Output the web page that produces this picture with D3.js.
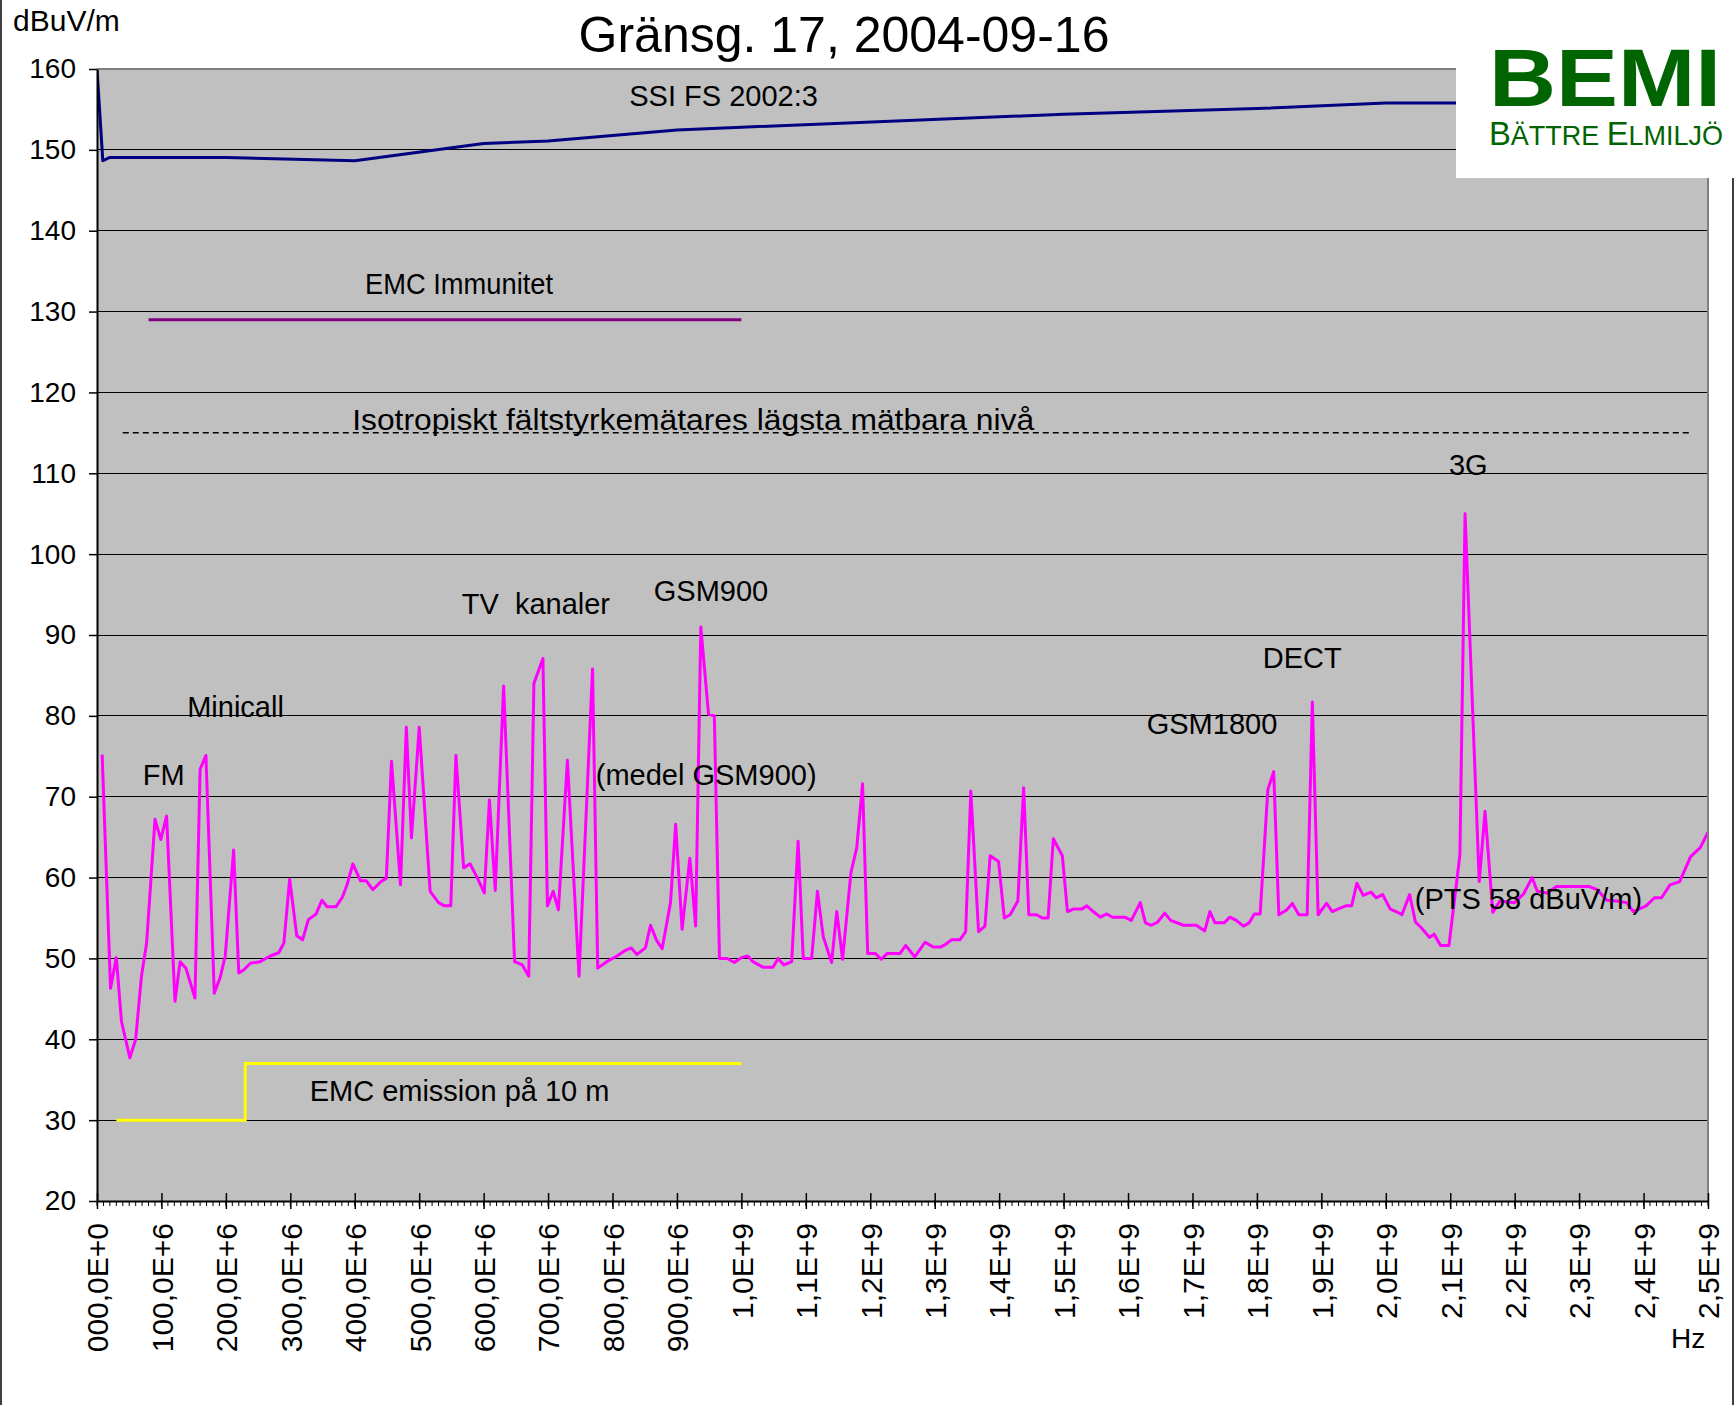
<!DOCTYPE html>
<html>
<head>
<meta charset="utf-8">
<script src="https://cdn.jsdelivr.net/npm/d3@7"></script>
<style>
  body { margin: 0; background: #fff; }
  svg { display: block; font-family: "Liberation Sans", Arial, sans-serif; }
</style>
</head>
<body>
<div id="chart"></div>
<script>
// measured field strength: [frequency MHz, level dBuV/m]
var measured = [
  [8,75.2],[21,46.3],[30,50.1],[38,42.2],[51,37.7],[60,40],[69,47.8],[77,51.9],[90,67.2],[99,64.7],
  [108,67.6],[121,44.7],[129,49.6],[138,48.8],[152,45.1],[160,73.4],[169,75.1],[182,45.7],[191,47.6],[199,50.3],
  [212,63.4],[220,48.2],[228,48.6],[238,49.4],[253,49.6],[269,50.3],[282,50.7],[290,51.9],[299,59.8],[310,52.8],
  [319,52.3],[328,54.8],[340,55.5],[349,57.2],[357,56.4],[371,56.4],[381,57.6],[388,59.1],[397,61.7],[409,59.6],
  [418,59.6],[428,58.5],[442,59.6],[449,59.9],[457,74.4],[471,59.1],[480,78.6],[488,64.9],[500,78.6],[517,58.3],
  [530,56.9],[539,56.5],[549,56.5],[557,75.1],[569,61.2],[579,61.7],[590,60],[601,58.1],[609,69.6],[618,58.4],
  [631,83.7],[648,49.6],[660,49.2],[670,47.8],[678,84],[692,87.1],[699,56.5],[708,58.3],[716,56],[730,74.5],
  [748,47.8],[769,85.8],[777,48.8],[791,49.6],[807,50.3],[820,51],[829,51.3],[838,50.5],[851,51.3],[859,54.1],
  [868,52.3],[877,51.2],[890,56.9],[898,66.6],[908,53.6],[920,62.4],[929,54],[937,91],[949,80.2],[958,80],
  [966,50],[978,50],[989,49.5],[1000,50.1],[1010,50.3],[1018,49.6],[1034,48.9],[1049,48.9],[1057,50],[1066,49.2],
  [1078,49.6],[1088,64.5],[1096,50],[1109,50],[1118,58.3],[1127,52.7],[1140,49.5],[1148,55.8],[1157,49.9],[1170,60.6],
  [1179,63.7],[1188,71.6],[1196,50.6],[1208,50.6],[1217,49.9],[1226,50.6],[1246,50.6],[1255,51.6],[1269,50.2],[1285,52],
  [1298,51.4],[1309,51.4],[1316,51.7],[1326,52.3],[1339,52.3],[1348,53.3],[1356,70.7],[1368,53.3],[1378,54],[1386,62.7],
  [1399,62],[1408,55],[1417,55.4],[1429,57.1],[1438,71.1],[1446,55.4],[1458,55.4],[1467,55],[1476,55],[1484,64.8],
  [1498,62.7],[1506,55.8],[1515,56.1],[1528,56.1],[1536,56.5],[1546,55.8],[1557,55.1],[1567,55.5],[1576,55.1],[1595,55.1],
  [1605,54.7],[1619,56.9],[1627,54.4],[1636,54.1],[1646,54.5],[1657,55.6],[1666,54.7],[1686,54.1],[1706,54.1],[1719,53.4],
  [1727,55.8],[1735,54.4],[1749,54.4],[1758,55.1],[1768,54.7],[1779,54],[1788,54.4],[1796,55.5],[1805,55.5],[1817,70.9],
  [1826,73.1],[1834,55.4],[1846,56],[1855,56.8],[1865,55.4],[1878,55.4],[1886,81.7],[1895,55.4],[1908,56.8],[1917,55.8],
  [1928,56.2],[1938,56.5],[1947,56.5],[1955,59.3],[1965,57.8],[1977,58.2],[1985,57.5],[1995,57.9],[2007,56.1],[2016,55.8],
  [2025,55.4],[2037,57.9],[2046,54.5],[2055,53.8],[2068,52.6],[2075,53],[2085,51.6],[2098,51.6],[2115,62.8],[2123,105],
  [2145,59.5],[2154,68.2],[2166,55.7],[2177,57.1],[2200,56.9],[2214,58],[2227,60],[2235,58.3],[2250,58.1],[2265,58.9],
  [2297,58.9],[2315,58.9],[2328,58.5],[2343,57.2],[2358,57.1],[2374,56.9],[2384,55.8],[2404,56.5],[2417,57.5],[2428,57.5],
  [2441,59.1],[2456,59.5],[2473,62.6],[2488,63.7],[2500,65.6]
];

// limit lines
var ssiLimit = [[0,160],[9,148.65],[19,149.05],[50,149.05],[200,149.05],[400,148.65],[600,150.8],[700,151.1],
  [900,152.45],[1000,152.8],[1500,154.4],[1800,155.1],[2000,155.8],[2500,155.8]];
var emcImmunity = [[80,129],[1000,129]];
var isoMeterFloor = [[40,115],[2475,115]];
var emcEmission = [[30,30],[230,30],[230,37],[1000,37]];

// labels placed in data coordinates [text, MHz, dBuV/m]
var notes = [
  ["SSI FS 2002:3", 826, 155.4],
  ["EMC Immunitet", 416, 132.2],
  ["Isotropiskt fältstyrkemätares lägsta mätbara nivå", 396, 115.4],
  ["3G", 2098, 109.8],
  ["GSM900", 864, 94.2],
  ["TV  kanaler", 566, 92.6],
  ["DECT", 1809, 85.9],
  ["Minicall", 140, 79.9],
  ["GSM1800", 1629, 77.8],
  ["FM", 71, 71.5],
  ["(medel GSM900)", 774, 71.5],
  ["(PTS 58 dBuV/m)", 2045, 56.1],
  ["EMC emission på 10 m", 330, 32.4]
];

var yTicks = [20, 30, 40, 50, 60, 70, 80, 90, 100, 110, 120, 130, 140, 150, 160];
var xTicks = [0, 100, 200, 300, 400, 500, 600, 700, 800, 900, 1000, 1100, 1200, 1300, 1400,
  1500, 1600, 1700, 1800, 1900, 2000, 2100, 2200, 2300, 2400, 2500];
var xTickLabels = ["000,0E+0", "100,0E+6", "200,0E+6", "300,0E+6", "400,0E+6", "500,0E+6",
  "600,0E+6", "700,0E+6", "800,0E+6", "900,0E+6", "1,0E+9", "1,1E+9", "1,2E+9", "1,3E+9",
  "1,4E+9", "1,5E+9", "1,6E+9", "1,7E+9", "1,8E+9", "1,9E+9", "2,0E+9", "2,1E+9", "2,2E+9",
  "2,3E+9", "2,4E+9", "2,5E+9"];

var W = 1736, H = 1405;
var pLeft = 97, pRight = 1708, pTop = 69, pBottom = 1201;

// a couple of labels are set wider / tighter in the original
var noteWidth = {
  "Isotropiskt fältstyrkemätares lägsta mätbara nivå": 682,
  "EMC Immunitet": 188
};

var svg = d3.select("#chart").append("svg")
  .attr("width", W)
  .attr("height", H);

var x = d3.scaleLinear().domain([0, 2500]).range([pLeft, pRight]);
var y = d3.scaleLinear().domain([20, 160]).range([pBottom, pTop]);

// outer chart border
svg.append("line").attr("x1", 1).attr("x2", 1).attr("y1", 0).attr("y2", H)
  .attr("stroke", "#404040").attr("stroke-width", 2);
svg.append("line").attr("x1", 1733).attr("x2", 1733).attr("y1", 0).attr("y2", H)
  .attr("stroke", "#404040").attr("stroke-width", 2);

// plot area
svg.append("rect")
  .attr("x", pLeft).attr("y", pTop)
  .attr("width", pRight - pLeft).attr("height", pBottom - pTop)
  .attr("fill", "#c0c0c0");

svg.append("clipPath").attr("id", "plotclip")
  .append("rect")
  .attr("x", pLeft).attr("y", pTop)
  .attr("width", pRight - pLeft).attr("height", pBottom - pTop);

// gridlines
svg.append("g")
  .selectAll("line")
  .data(yTicks.filter(function(d) { return d > 20 && d < 160; }))
  .enter().append("line")
    .attr("x1", pLeft).attr("x2", pRight)
    .attr("y1", function(d) { return y(d); })
    .attr("y2", function(d) { return y(d); })
    .attr("stroke", "#000")
    .attr("stroke-width", 1)
    .attr("shape-rendering", "crispEdges");

var line = d3.line()
  .x(function(d) { return x(d[0]); })
  .y(function(d) { return y(d[1]); });

var plot = svg.append("g").attr("clip-path", "url(#plotclip)");

plot.append("path").datum(isoMeterFloor)
  .attr("d", line).attr("fill", "none")
  .attr("stroke", "#000").attr("stroke-width", 1.5)
  .attr("stroke-dasharray", "6,4");

plot.append("path").datum(emcImmunity)
  .attr("d", line).attr("fill", "none")
  .attr("stroke", "#800080").attr("stroke-width", 3);

plot.append("path").datum(emcEmission)
  .attr("d", line).attr("fill", "none")
  .attr("stroke", "#ffff00").attr("stroke-width", 3);

plot.append("path").datum(ssiLimit)
  .attr("d", line).attr("fill", "none")
  .attr("stroke", "#000080").attr("stroke-width", 3)
  .attr("stroke-linejoin", "round");

plot.append("path").datum(measured)
  .attr("d", line).attr("fill", "none")
  .attr("stroke", "#ff00ff").attr("stroke-width", 3)
  .attr("stroke-linejoin", "round");

// annotations
svg.append("g")
  .selectAll("text")
  .data(notes)
  .enter().append("text")
    .attr("x", function(d) { return x(d[1]); })
    .attr("y", function(d) { return y(d[2]); })
    .attr("font-size", 29)
    .attr("fill", "#000")
    .attr("textLength", function(d) { return noteWidth[d[0]] || null; })
    .attr("lengthAdjust", "spacingAndGlyphs")
    .style("white-space", "pre")
    .text(function(d) { return d[0]; });

// plot border (top / right)
svg.append("path")
  .attr("d", "M" + pLeft + "," + pTop + "H" + pRight + "V" + pBottom)
  .attr("fill", "none")
  .attr("stroke", "#808080")
  .attr("stroke-width", 2);

// Y axis
var yAxis = svg.append("g")
  .attr("transform", "translate(" + pLeft + ",0)")
  .call(d3.axisLeft(y).tickValues(yTicks).tickSize(8).tickSizeOuter(0).tickPadding(13)
    .tickFormat(d3.format("d")));
yAxis.attr("font-size", null).attr("font-family", null);
yAxis.select(".domain").attr("stroke", "#000").attr("stroke-width", 2);
yAxis.selectAll(".tick line").attr("stroke", "#000").attr("stroke-width", 1.5);
yAxis.selectAll(".tick text").attr("font-size", 28).attr("fill", "#000");

// X axis
var xAxis = svg.append("g")
  .attr("transform", "translate(0," + pBottom + ")")
  .call(d3.axisBottom(x).tickValues(xTicks).tickSize(8).tickSizeOuter(0)
    .tickFormat(function(d, i) { return xTickLabels[i]; }));
xAxis.attr("font-size", null).attr("font-family", null);
xAxis.select(".domain").attr("stroke", "#000").attr("stroke-width", 2);
xAxis.selectAll(".tick line").attr("y1", -8).attr("y2", 8)
  .attr("stroke", "#000").attr("stroke-width", 1.5);
xAxis.selectAll(".tick text")
  .attr("transform", "rotate(-90)")
  .attr("text-anchor", "end")
  .attr("x", -22).attr("y", 0).attr("dy", "0.36em")
  .attr("font-size", 30)
  .attr("font-family", "'Liberation Sans Narrow', 'Liberation Sans', Arial, sans-serif")
  .attr("fill", "#000");

// minor ticks every 10 MHz
svg.append("g")
  .selectAll("line")
  .data(d3.range(0, 2501, 10))
  .enter().append("line")
    .attr("x1", function(d) { return x(d); })
    .attr("x2", function(d) { return x(d); })
    .attr("y1", pBottom).attr("y2", pBottom + 5)
    .attr("stroke", "#000").attr("stroke-width", 1);

// titles
svg.append("text")
  .attr("x", 844).attr("y", 52)
  .attr("text-anchor", "middle")
  .attr("font-size", 50)
  .text("Gränsg. 17, 2004-09-16");

svg.append("text")
  .attr("x", 13).attr("y", 31)
  .attr("font-size", 30)
  .text("dBuV/m");

svg.append("text")
  .attr("x", 1671).attr("y", 1348)
  .attr("font-size", 28)
  .text("Hz");

// logo
var logo = svg.append("g");
logo.append("rect")
  .attr("x", 1456).attr("y", 0).attr("width", 280).attr("height", 178)
  .attr("fill", "#fff");
logo.append("text")
  .attr("x", 1489).attr("y", 106)
  .attr("font-size", 82).attr("font-weight", "bold")
  .attr("fill", "#006400")
  .attr("textLength", 232).attr("lengthAdjust", "spacingAndGlyphs")
  .text("BEMI");
var sub = logo.append("text")
  .attr("x", 1489).attr("y", 145)
  .attr("fill", "#006400")
  .attr("textLength", 234).attr("lengthAdjust", "spacingAndGlyphs");
sub.append("tspan").attr("font-size", 34).text("B");
sub.append("tspan").attr("font-size", 28).text("ÄTTRE ");
sub.append("tspan").attr("font-size", 34).text("E");
sub.append("tspan").attr("font-size", 28).text("LMILJÖ");
</script>
</body>
</html>
